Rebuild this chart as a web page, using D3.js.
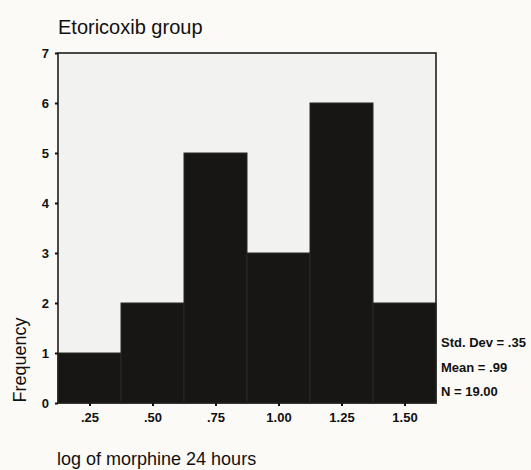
<!DOCTYPE html>
<html>
<head>
<meta charset="utf-8">
<script src="https://cdn.jsdelivr.net/npm/d3@7"></script>
<style>
  html, body { margin: 0; padding: 0; background: #fbfaf7; }
  svg { display: block; font-family: "Liberation Sans", Arial, sans-serif; }
</style>
</head>
<body>
<svg id="chart" width="531" height="470"></svg>
<script>
// Histogram of log(morphine 24 h), bins of width 0.25
const binCenters = [0.25, 0.50, 0.75, 1.00, 1.25, 1.50];
const frequencies = [1, 2, 5, 3, 6, 2];
const xTickLabels = [".25", ".50", ".75", "1.00", "1.25", "1.50"];
const yTicks = [0, 1, 2, 3, 4, 5, 6, 7];
const statLines = ["Std. Dev = .35", "Mean = .99", "N = 19.00"];
const binWidth = 0.25;

const svg = d3.select("#chart");
const plot = { left: 58, right: 436, top: 53, bottom: 403 };

const x = d3.scaleLinear()
  .domain([binCenters[0] - binWidth / 2, binCenters[binCenters.length - 1] + binWidth / 2])
  .range([plot.left, plot.right]);
const y = d3.scaleLinear().domain([0, 7]).range([plot.bottom, plot.top]);

// plot area background
svg.append("rect")
  .attr("x", plot.left).attr("y", plot.top)
  .attr("width", plot.right - plot.left).attr("height", plot.bottom - plot.top)
  .attr("fill", "#f2f2f0");

// bars
svg.append("g").selectAll("rect")
  .data(binCenters.map((c, i) => ({ c, f: frequencies[i] })))
  .join("rect")
  .attr("x", d => x(d.c - binWidth / 2))
  .attr("y", d => y(d.f))
  .attr("width", d => x(d.c + binWidth / 2) - x(d.c - binWidth / 2))
  .attr("height", d => y(0) - y(d.f))
  .attr("fill", "#171615")
  .attr("stroke", "#2a2927")
  .attr("stroke-width", 1);

// frame
svg.append("rect")
  .attr("x", plot.left).attr("y", plot.top)
  .attr("width", plot.right - plot.left).attr("height", plot.bottom - plot.top)
  .attr("fill", "none").attr("stroke", "#1e1e1e").attr("stroke-width", 1.6);

// y axis
const yAxis = d3.axisLeft(y).tickValues(yTicks).tickFormat(d3.format("d")).tickSize(3).tickPadding(6);
const gy = svg.append("g").attr("transform", `translate(${plot.left},0)`).call(yAxis);
gy.select(".domain").remove();
gy.selectAll("line").attr("stroke", "#111").attr("stroke-width", 2);
gy.selectAll("text").attr("font-size", 13).attr("font-weight", "bold").attr("fill", "#111")
  .attr("font-family", "Liberation Sans, Arial, sans-serif");

// x axis
const xAxis = d3.axisBottom(x).tickValues(binCenters)
  .tickFormat((d, i) => xTickLabels[i]).tickSize(3).tickPadding(7);
const gx = svg.append("g").attr("transform", `translate(0,${plot.bottom})`).call(xAxis);
gx.select(".domain").remove();
gx.selectAll("line").attr("stroke", "#111").attr("stroke-width", 2);
gx.selectAll("text").attr("font-size", 13).attr("font-weight", "bold").attr("fill", "#111")
  .attr("font-family", "Liberation Sans, Arial, sans-serif");

// title
svg.append("text").attr("x", 58).attr("y", 34)
  .attr("font-size", 20).attr("fill", "#111").text("Etoricoxib group");

// axis titles
svg.append("text").attr("x", 57).attr("y", 465)
  .attr("font-size", 18).attr("fill", "#111").text("log of morphine 24 hours");
svg.append("text")
  .attr("transform", `translate(26,360) rotate(-90)`)
  .attr("text-anchor", "middle")
  .attr("font-size", 18).attr("fill", "#111").text("Frequency");

// summary statistics
svg.append("g").selectAll("text")
  .data(statLines)
  .join("text")
  .attr("x", 441)
  .attr("y", (d, i) => 347 + i * 24.5)
  .attr("font-size", 13).attr("font-weight", "bold").attr("fill", "#111")
  .text(d => d);
</script>
</body>
</html>
